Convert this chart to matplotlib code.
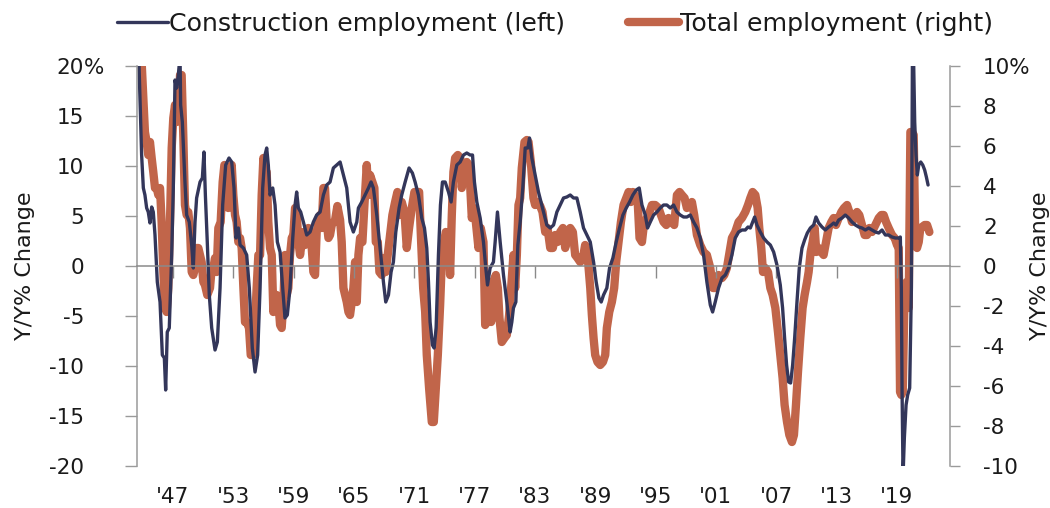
import matplotlib
matplotlib.use("Agg")
import matplotlib.pyplot as plt

# ---------------- data ----------------
const_year = [
    1943.42, 1943.62, 1943.88, 1944.05, 1944.21, 1944.38, 1944.54, 1944.71, 1944.88, 1945.04,
    1945.21, 1945.44, 1945.71, 1945.94, 1946.14, 1946.27, 1946.43, 1946.63, 1946.87, 1947.03,
    1947.20, 1947.36, 1947.53, 1947.70, 1947.76, 1947.93, 1948.19, 1948.36, 1948.62, 1948.86,
    1949.02, 1949.19, 1949.35, 1949.69, 1949.92, 1950.08, 1950.22, 1950.41, 1950.61, 1950.85,
    1951.18, 1951.41, 1951.68, 1951.94, 1952.24, 1952.57, 1952.84, 1953.07, 1953.27, 1953.50,
    1953.67, 1954.00, 1954.33, 1954.59, 1954.89, 1955.16, 1955.42, 1955.66, 1955.92, 1956.15,
    1956.32, 1956.48, 1956.65, 1956.92, 1957.15, 1957.38, 1957.65, 1957.91, 1958.14, 1958.37,
    1958.64, 1958.91, 1959.14, 1959.30, 1959.47, 1959.70, 1959.97, 1960.30, 1960.63, 1960.96,
    1961.29, 1961.63, 1961.96, 1962.29, 1962.62, 1962.95, 1963.28, 1963.62, 1963.95, 1964.28,
    1964.61, 1964.94, 1965.28, 1965.44, 1965.77, 1966.10, 1966.44, 1966.70, 1966.93, 1967.27,
    1967.60, 1967.93, 1968.16, 1968.43, 1968.69, 1968.92, 1969.16, 1969.49, 1969.75, 1970.09,
    1970.48, 1970.81, 1971.08, 1971.41, 1971.74, 1972.01, 1972.24, 1972.41, 1972.57, 1972.80,
    1972.97, 1973.17, 1973.40, 1973.60, 1973.80, 1974.07, 1974.40, 1974.66, 1974.89, 1975.23,
    1975.56, 1975.89, 1976.22, 1976.55, 1976.79, 1976.98, 1977.22, 1977.55, 1977.88, 1978.11,
    1978.28, 1978.54, 1978.87, 1979.04, 1979.27, 1979.54, 1979.87, 1980.20, 1980.53, 1980.70,
    1980.86, 1981.10, 1981.30, 1981.53, 1981.79, 1982.03, 1982.29, 1982.46, 1982.69, 1983.02,
    1983.35, 1983.68, 1984.02, 1984.18, 1984.52, 1984.85, 1985.18, 1985.51, 1985.84, 1986.17,
    1986.51, 1986.84, 1987.17, 1987.50, 1987.83, 1988.16, 1988.50, 1988.83, 1989.09, 1989.36,
    1989.59, 1989.82, 1990.15, 1990.42, 1990.75, 1991.08, 1991.41, 1991.75, 1992.08, 1992.41,
    1992.74, 1993.07, 1993.37, 1993.64, 1993.97, 1994.20, 1994.47, 1994.80, 1995.13, 1995.46,
    1995.79, 1996.12, 1996.46, 1996.79, 1997.12, 1997.45, 1997.78, 1998.11, 1998.45, 1998.78,
    1999.11, 1999.44, 1999.77, 2000.10, 2000.44, 2000.67, 2000.93, 2001.26, 2001.60, 2001.93,
    2002.26, 2002.59, 2002.92, 2003.25, 2003.59, 2003.92, 2004.19, 2004.42, 2004.65, 2004.85,
    2005.08, 2005.41, 2005.74, 2006.08, 2006.41, 2006.74, 2007.07, 2007.40, 2007.63, 2007.83,
    2008.03, 2008.23, 2008.43, 2008.63, 2008.83, 2009.06, 2009.29, 2009.56, 2009.82, 2010.09,
    2010.39, 2010.72, 2010.95, 2011.22, 2011.55, 2011.88, 2012.21, 2012.48, 2012.71, 2012.94,
    2013.21, 2013.54, 2013.87, 2014.20, 2014.53, 2014.87, 2015.20, 2015.53, 2015.86, 2016.19,
    2016.52, 2016.86, 2017.19, 2017.52, 2017.85, 2018.18, 2018.51, 2018.85, 2019.18, 2019.34,
    2019.44, 2019.51, 2019.61, 2019.74, 2019.91, 2020.07, 2020.27, 2020.44, 2020.54, 2020.60,
    2020.77, 2020.90, 2021.03, 2021.17, 2021.37, 2021.57, 2021.76, 2021.93, 2022.10,
]
const_val = [
    27.0, 20.0, 11.1, 7.8, 7.1, 5.8, 5.4, 4.3, 5.9, 5.4,
    3.1, -1.6, -3.6, -8.9, -9.2, -12.4, -6.6, -6.2, 1.1, 7.8,
    18.6, 17.8, 19.1, 21.0, 16.1, 14.4, 8.4, 5.1, 4.4, 2.1,
    -0.2, 4.4, 6.8, 8.4, 8.8, 11.4, 7.1, 2.4, -2.9, -6.2,
    -8.4, -7.6, -2.2, 6.1, 10.1, 10.8, 10.4, 7.8, 2.8, 3.8,
    2.1, 1.8, 1.1, -2.2, -8.2, -10.6, -8.9, -2.2, 7.8, 11.1,
    11.8, 10.1, 7.1, 7.8, 6.1, 2.4, 1.4, -2.2, -5.2, -4.9,
    -2.2, 2.8, 6.1, 7.4, 5.8, 5.4, 4.4, 3.1, 3.4, 4.4,
    5.1, 5.4, 7.1, 8.1, 8.4, 9.8, 10.1, 10.4, 9.1, 7.8,
    4.4, 3.4, 4.4, 5.8, 6.4, 7.1, 7.8, 8.4, 7.8, 5.1,
    1.8, -1.6, -3.6, -2.9, -0.6, 0.4, 3.4, 5.8, 7.1, 8.4,
    9.8, 9.3, 8.4, 7.1, 4.8, 3.8, 1.8, -1.6, -5.6, -7.9,
    -8.2, -6.2, 1.1, 6.1, 8.4, 8.4, 7.4, 6.4, 8.4, 10.1,
    10.4, 11.1, 11.3, 11.1, 11.1, 8.4, 6.4, 4.8, 2.4, -0.2,
    -1.9, -0.2, 0.4, 2.4, 5.4, 2.4, -0.9, -3.6, -6.6, -5.6,
    -4.2, -3.6, 2.1, 4.4, 7.8, 11.8, 11.8, 12.8, 10.8, 9.1,
    7.4, 6.1, 4.8, 4.1, 3.8, 4.1, 5.4, 6.1, 6.8, 6.9,
    7.1, 6.8, 6.8, 5.4, 3.8, 3.1, 2.4, 0.4, -1.6, -3.2,
    -3.6, -2.9, -2.2, -0.2, 0.8, 2.4, 3.8, 5.1, 5.8, 6.4,
    7.1, 7.6, 7.8, 6.1, 5.1, 3.8, 4.4, 5.1, 5.4, 5.8,
    6.1, 6.1, 5.8, 6.1, 5.4, 5.1, 4.9, 4.9, 5.1, 4.4,
    3.8, 2.8, 1.1, -1.6, -3.9, -4.6, -3.6, -2.2, -1.2, -0.9,
    -0.2, 1.1, 2.8, 3.4, 3.6, 3.6, 3.9, 3.8, 4.4, 4.9,
    4.1, 3.4, 2.8, 2.4, 2.1, 1.4, 0.1, -1.9, -4.2, -7.2,
    -9.9, -11.6, -11.7, -9.9, -7.2, -3.6, -0.2, 1.8, 2.6, 3.3,
    3.8, 4.1, 4.9, 4.3, 3.9, 3.6, 3.9, 4.1, 4.3, 4.1,
    4.6, 4.8, 5.1, 4.8, 4.4, 4.1, 3.9, 3.8, 3.6, 3.8,
    3.6, 3.4, 3.3, 3.6, 3.1, 3.1, 2.9, 2.8, 2.8, 2.9,
    -2.2, -12.2, -21.0, -17.2, -13.9, -12.9, -12.2, -2.2, 20.5, 24.0,
    14.4, 11.1, 9.1, 10.1, 10.4, 10.1, 9.6, 8.9, 8.1,
]

total_year = [
    1943.60, 1943.90, 1944.21, 1944.38, 1944.54, 1944.71, 1944.88, 1945.04, 1945.21, 1945.38,
    1945.54, 1945.71, 1945.87, 1946.04, 1946.20, 1946.37, 1946.53, 1946.70, 1946.87, 1947.03,
    1947.20, 1947.36, 1947.53, 1947.70, 1947.86, 1948.03, 1948.19, 1948.36, 1948.52, 1948.69,
    1948.86, 1949.02, 1949.19, 1949.35, 1949.52, 1949.69, 1949.85, 1950.02, 1950.18, 1950.41,
    1950.68, 1950.85, 1951.01, 1951.18, 1951.34, 1951.51, 1951.74, 1951.94, 1952.11, 1952.34,
    1952.50, 1952.67, 1952.84, 1953.00, 1953.17, 1953.33, 1953.50, 1953.67, 1953.83, 1954.00,
    1954.16, 1954.33, 1954.56, 1954.73, 1954.93, 1955.16, 1955.32, 1955.49, 1955.66, 1955.82,
    1955.99, 1956.15, 1956.32, 1956.48, 1956.65, 1956.82, 1956.98, 1957.15, 1957.31, 1957.48,
    1957.65, 1957.81, 1957.98, 1958.14, 1958.31, 1958.47, 1958.64, 1958.81, 1958.97, 1959.14,
    1959.30, 1959.47, 1959.64, 1959.80, 1959.97, 1960.13, 1960.30, 1960.46, 1960.63, 1960.80,
    1960.96, 1961.13, 1961.29, 1961.46, 1961.63, 1961.79, 1961.96, 1962.12, 1962.29, 1962.46,
    1962.62, 1962.79, 1963.12, 1963.35, 1963.62, 1963.78, 1963.95, 1964.12, 1964.28, 1964.45,
    1964.61, 1964.78, 1964.94, 1965.11, 1965.28, 1965.44, 1965.61, 1965.84, 1966.04, 1966.27,
    1966.44, 1966.60, 1966.83, 1967.03, 1967.17, 1967.37, 1967.53, 1967.76, 1967.98, 1968.16,
    1968.36, 1968.59, 1968.82, 1969.09, 1969.32, 1969.52, 1969.75, 1970.02, 1970.25, 1970.48,
    1970.75, 1971.01, 1971.25, 1971.48, 1971.68, 1971.88, 1972.08, 1972.24, 1972.47, 1972.74,
    1972.94, 1973.14, 1973.34, 1973.57, 1973.73, 1973.90, 1974.13, 1974.40, 1974.56, 1974.73,
    1974.89, 1975.06, 1975.33, 1975.56, 1975.72, 1975.99, 1976.22, 1976.45, 1976.72, 1976.88,
    1977.12, 1977.38, 1977.61, 1977.88, 1978.05, 1978.24, 1978.44, 1978.64, 1978.84, 1979.11,
    1979.31, 1979.47, 1979.70, 1979.97, 1980.20, 1980.43, 1980.63, 1980.86, 1981.03, 1981.20,
    1981.36, 1981.53, 1981.69, 1981.96, 1982.19, 1982.36, 1982.59, 1982.85, 1983.02, 1983.29,
    1983.52, 1983.75, 1984.02, 1984.25, 1984.52, 1984.78, 1985.01, 1985.24, 1985.51, 1985.78,
    1986.01, 1986.24, 1986.51, 1986.77, 1987.00, 1987.23, 1987.50, 1987.77, 1987.99, 1988.23,
    1988.50, 1988.66, 1988.83, 1988.99, 1989.22, 1989.49, 1989.76, 1989.99, 1990.15, 1990.39,
    1990.65, 1990.88, 1991.08, 1991.31, 1991.55, 1991.81, 1992.08, 1992.31, 1992.54, 1992.74,
    1992.97, 1993.20, 1993.40, 1993.64, 1993.87, 1994.13, 1994.40, 1994.63, 1994.96, 1995.29,
    1995.53, 1995.79, 1996.06, 1996.29, 1996.62, 1996.85, 1997.12, 1997.38, 1997.62, 1997.88,
    1998.11, 1998.38, 1998.61, 1998.84, 1999.11, 1999.44, 1999.77, 2000.10, 2000.44, 2000.70,
    2000.93, 2001.26, 2001.60, 2001.83, 2002.09, 2002.36, 2002.59, 2002.92, 2003.25, 2003.59,
    2003.92, 2004.19, 2004.42, 2004.65, 2004.92, 2005.15, 2005.31, 2005.51, 2005.68, 2005.91,
    2006.18, 2006.41, 2006.64, 2006.91, 2007.17, 2007.40, 2007.63, 2007.83, 2008.07, 2008.30,
    2008.56, 2008.76, 2008.96, 2009.16, 2009.39, 2009.62, 2009.82, 2010.06, 2010.22, 2010.42,
    2010.62, 2010.82, 2010.98, 2011.22, 2011.48, 2011.71, 2011.95, 2012.21, 2012.48, 2012.71,
    2012.94, 2013.21, 2013.47, 2013.74, 2014.04, 2014.27, 2014.53, 2014.80, 2015.03, 2015.26,
    2015.53, 2015.79, 2016.03, 2016.26, 2016.52, 2016.86, 2017.19, 2017.45, 2017.68, 2017.92,
    2018.18, 2018.51, 2018.78, 2019.01, 2019.18, 2019.31, 2019.44, 2019.58, 2019.77, 2019.97,
    2020.17, 2020.34, 2020.50, 2020.67, 2020.83, 2021.00, 2021.17, 2021.33, 2021.50, 2021.76,
    2022.00, 2022.23,
]
total_val = [
    13.0, 10.0, 6.7, 6.2, 5.55, 6.2, 5.4, 4.7, 3.9, 3.9,
    3.55, 3.9, 2.2, -0.3, -2.1, -2.3, -1.1, 2.2, 5.9, 7.4,
    8.05, 7.2, 7.55, 9.55, 9.55, 6.4, 3.05, 2.55, 2.7, 1.9,
    -0.3, -0.45, -0.1, 0.9, 0.9, 0.55, 0.2, -0.8, -0.95, -1.45,
    -1.1, -0.1, -0.1, 0.4, -0.3, 1.9, 2.2, 4.2, 5.05, 4.9,
    2.9, 3.05, 5.05, 3.55, 2.55, 2.2, 1.2, 1.4, 0.9, -1.1,
    -2.8, -2.8, -3.1, -4.45, -4.45, -2.8, -1.1, 0.55, 0.55, 3.55,
    5.4, 4.7, 4.7, 2.2, 0.9, 0.55, -2.3, -1.8, -1.45, -1.8,
    -2.95, -3.1, -1.8, 0.55, -1.45, -1.1, 0.55, 1.4, 1.55, 2.9,
    2.7, 1.2, 0.55, 1.2, 1.7, 1.05, 1.7, 1.9, 1.55, 0.9,
    -0.3, -0.45, 1.7, 2.2, 2.55, 1.9, 3.9, 3.9, 2.2, 1.4,
    1.55, 2.05, 2.3, 3.0, 2.3, 1.2, -1.1, -1.45, -1.8, -2.3,
    -2.45, -1.8, -1.1, 0.2, -1.8, 0.55, 1.4, 1.2, 3.05, 5.05,
    3.55, 4.55, 4.2, 3.9, 1.2, 1.2, -0.3, -0.45, 0.4, -0.3,
    0.55, 1.55, 2.55, 3.2, 3.7, 2.55, 3.2, 2.7, 0.9, 1.9,
    2.9, 3.7, 3.7, 3.7, 1.2, -1.1, -2.3, -4.45, -6.1, -7.8,
    -7.8, -6.1, -4.45, -1.95, 0.2, 1.05, 1.7, 1.4, -0.45, 2.55,
    4.7, 5.4, 5.55, 5.4, 3.9, 5.05, 5.2, 5.05, 2.4, 2.9,
    2.2, 0.9, 1.9, 1.2, -2.95, -2.8, -1.1, -2.8, -0.8, -0.45,
    -1.1, -2.6, -3.8, -3.6, -3.45, -2.45, -1.1, 0.55, -1.1, 0.55,
    3.05, 3.4, 4.9, 6.2, 6.3, 6.2, 5.2, 3.4, 3.05, 3.2,
    3.0, 2.7, 1.7, 1.9, 0.9, 0.9, 1.55, 1.2, 1.7, 1.9,
    0.9, 1.55, 1.9, 1.7, 0.55, 0.4, 0.2, 0.4, 1.05, 0.55,
    -1.1, -2.45, -3.6, -4.45, -4.8, -4.95, -4.8, -4.45, -3.1, -2.3,
    -1.8, -1.1, 0.2, 1.2, 2.2, 3.05, 3.4, 3.7, 3.2, 3.7,
    3.55, 3.4, 1.4, 1.2, 2.2, 2.4, 2.7, 3.05, 3.05, 2.9,
    2.55, 2.2, 2.05, 2.4, 2.2, 2.05, 3.55, 3.7, 3.55, 3.4,
    2.9, 3.05, 3.2, 2.55, 1.55, 1.05, 0.7, 0.55, -0.1, -1.1,
    -1.1, -0.45, -0.6, -0.45, -0.1, 0.7, 1.4, 1.7, 2.2, 2.4,
    2.7, 3.05, 3.4, 3.7, 3.55, 2.9, 1.9, 0.9, -0.3, -0.1,
    -0.3, -1.1, -1.45, -2.1, -3.3, -4.45, -5.6, -6.95, -7.8, -8.45,
    -8.8, -8.45, -6.95, -5.3, -3.6, -2.1, -1.45, -0.8, -0.3, 0.7,
    1.2, 1.9, 0.7, 0.9, 0.7, 0.55, 1.2, 1.9, 2.2, 2.4,
    2.05, 2.4, 2.7, 2.9, 3.05, 2.7, 2.2, 2.4, 2.7, 2.55,
    2.05, 1.55, 1.55, 1.9, 1.7, 2.05, 2.4, 2.55, 2.55, 2.2,
    1.9, 1.55, 1.4, 1.05, 0.9, -6.3, -6.45, -6.3, -1.1, -0.8,
    -2.1, 6.7, 6.7, 6.55, 1.2, 0.9, 1.2, 1.9, 1.95, 2.05,
    2.05, 1.7,
]

xtick_years = [1947, 1953, 1959, 1965, 1971, 1977, 1983, 1989, 1995, 2001, 2007, 2013, 2019]
xtick_labels = ["'47", "'53", "'59", "'65", "'71", "'77", "'83", "'89", "'95", "'01", "'07", "'13", "'19"]
left_ticks = [-20, -15, -10, -5, 0, 5, 10, 15, 20]
left_labels = ["-20", "-15", "-10", "-5", "0", "5", "10", "15", "20"]
right_ticks = [-10, -8, -6, -4, -2, 0, 2, 4, 6, 8, 10]
right_labels = ["-10", "-8", "-6", "-4", "-2", "0", "2", "4", "6", "8", "10%"]

# ---------------- style ----------------
NAVY = "#33365A"
ORANGE = "#C1654A"
GRAY = "#9A9A9A"
ZERO = "#8A8A8A"
TXT = "#1A1A1A"
TICK_FS = 15.5

plt.rcParams["font.family"] = ["DejaVu Sans"]

fig = plt.figure(figsize=(10.5, 5.08), dpi=100)
W, H = 1050, 508
ax = fig.add_axes([137 / W, 1 - 466 / H, (950 - 137) / W, 400 / H])
ax2 = ax.twinx()

l_tot, = ax2.plot(total_year, total_val, color=ORANGE, lw=6.0,
                  solid_capstyle="round", solid_joinstyle="round")
l_con, = ax.plot(const_year, const_val, color=NAVY, lw=2.4,
                 solid_capstyle="round", solid_joinstyle="round")

ax.set_zorder(ax2.get_zorder() + 1)
ax.patch.set_visible(False)

ax.set_xlim(1943.42, 2024.28)
ax.set_ylim(-20, 20)
ax2.set_ylim(-10, 10)

# spines
for s in ["top", "right"]:
    ax.spines[s].set_visible(False)
for s in ["top", "left", "bottom"]:
    ax2.spines[s].set_visible(False)
ax.spines["left"].set_color(GRAY)
ax.spines["left"].set_linewidth(1.1)
ax.spines["bottom"].set_position(("data", 0))
ax.spines["bottom"].set_color(ZERO)
ax.spines["bottom"].set_linewidth(1.1)
ax2.spines["right"].set_color(GRAY)
ax2.spines["right"].set_linewidth(1.1)

# x ticks (marks at zero line, labels at bottom)
ax.set_xticks(xtick_years)
ax.set_xticklabels(xtick_labels)
ax.tick_params(axis="x", direction="out", length=8.6, width=1.0, color=ZERO,
               pad=150.5, labelsize=TICK_FS, labelcolor=TXT)

# left y ticks
ax.set_yticks(left_ticks)
ax.set_yticklabels(left_labels)
ax.tick_params(axis="y", direction="out", length=8.6, width=1.0, color=GRAY,
               pad=29.5, labelsize=TICK_FS, labelcolor=TXT)
ax.annotate("%", xy=(0, 20), xycoords=("axes fraction", "data"),
            xytext=(-(8.6 + 29.5), 0), textcoords="offset points",
            ha="left", va="center_baseline", fontsize=TICK_FS, color=TXT)

# right y ticks
ax2.set_yticks(right_ticks)
ax2.set_yticklabels(right_labels)
ax2.tick_params(axis="y", direction="out", length=7.2, width=1.0, color=GRAY,
                pad=16.5, labelsize=TICK_FS, labelcolor=TXT)

ax.set_ylabel("Y/Y% Change", fontsize=16, color=TXT)
ax.yaxis.set_label_coords((35 - 137) / 813, 0.5)
ax2.set_ylabel("Y/Y% Change", fontsize=16, color=TXT)
ax2.yaxis.set_label_coords((1030 - 137) / 813, 0.5)

leg = fig.legend([l_con, l_tot],
                 ["Construction employment (left)", "Total employment (right)"],
                 loc="center", bbox_to_anchor=(555 / W, 1 - 24 / H), ncol=2,
                 frameon=False, handlelength=2.0, handletextpad=0.05,
                 columnspacing=2.5, prop={"family": "DejaVu Sans", "size": 18.2},
                 borderaxespad=0)
for t in leg.get_texts():
    t.set_color(TXT)

fig.savefig("out.png", dpi=100)
